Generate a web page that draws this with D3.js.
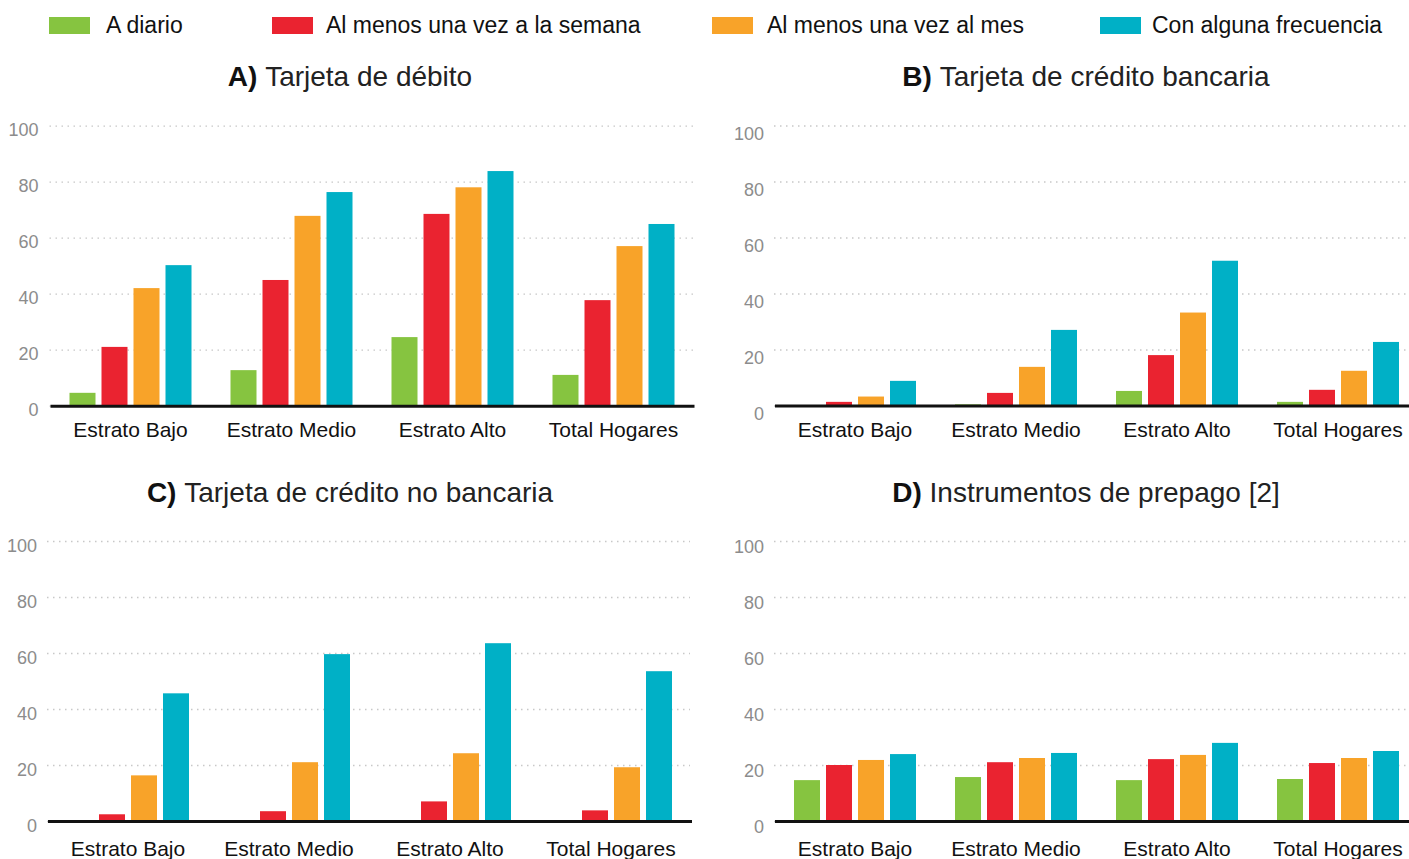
<!DOCTYPE html>
<html>
<head>
<meta charset="utf-8">
<script src="https://cdn.jsdelivr.net/npm/d3@7"></script>
<style>
    body { margin: 0; background: #fff; }
    svg { display: block; font-family: 'Liberation Sans', Arial, sans-serif; }
</style>
</head>
<body>
<svg id="chart" width="1409" height="859"></svg>
<script>
// Frecuencia de uso de instrumentos de pago, por estrato

const categories = ['Estrato Bajo', 'Estrato Medio', 'Estrato Alto', 'Total Hogares'];
const seriesNames = ['A diario', 'Al menos una vez a la semana', 'Al menos una vez al mes', 'Con alguna frecuencia'];
const seriesColors = ['#86c440', '#ea2330', '#f8a329', '#00b0c6'];
const yTicks = [0, 20, 40, 60, 80, 100];

// values per category, in series order
const debito = [
    [4.6, 21.0, 42.0, 50.2],
    [12.7, 44.9, 67.8, 76.3],
    [24.5, 68.5, 78.0, 83.8],
    [11.0, 37.7, 57.0, 64.9]
];
const creditoBancaria = [
    [0.0, 1.3, 3.2, 8.8],
    [0.4, 4.5, 13.8, 27.0],
    [5.2, 18.0, 33.2, 51.7],
    [1.3, 5.6, 12.4, 22.7]
];
const creditoNoBancaria = [
    [0.3, 2.4, 16.3, 45.6],
    [0.2, 3.5, 21.0, 59.6],
    [0.3, 7.0, 24.2, 63.5],
    [0.2, 3.8, 19.2, 53.5]
];
const prepago = [
    [14.6, 20.0, 21.8, 23.9],
    [15.7, 21.0, 22.5, 24.3],
    [14.6, 22.1, 23.6, 27.9],
    [15.0, 20.7, 22.5, 25.0]
];

// panel layout
const panels = [
    { letter: 'A)', title: 'Tarjeta de débito', data: debito,
      left: 50, top: 125.7, bottom: 405.7, gridEnd: 693, titleX: 350, titleY: 86, tickPad: 11, tickDy: 3.3, labelY: 31 },
    { letter: 'B)', title: 'Tarjeta de crédito bancaria', data: creditoBancaria,
      left: 774.5, top: 125.5, bottom: 405.5, gridEnd: 1409, titleX: 1086, titleY: 86, tickPad: 10, tickDy: 7.6, labelY: 31 },
    { letter: 'C)', title: 'Tarjeta de crédito no bancaria', data: creditoNoBancaria,
      left: 47.5, top: 541, bottom: 821, gridEnd: 690, titleX: 350, titleY: 502, tickPad: 10, tickDy: 4, labelY: 35 },
    { letter: 'D)', title: 'Instrumentos de prepago [2]', data: prepago,
      left: 774.5, top: 541, bottom: 821, gridEnd: 1409, titleX: 1086, titleY: 502, tickPad: 10, tickDy: 5, labelY: 35 }
];

const svg = d3.select('#chart');
const plotWidth = 644;

// Legend across the top
const legendX = [49, 272, 712, 1100];
const legendTextX = [106, 326, 767, 1152];
const legend = svg.append('g');
seriesNames.forEach((name, i) => {
    legend.append('rect')
        .attr('x', legendX[i])
        .attr('y', 17)
        .attr('width', 41)
        .attr('height', 17)
        .attr('fill', seriesColors[i]);
    legend.append('text')
        .attr('x', legendTextX[i])
        .attr('y', 33)
        .attr('font-size', '23px')
        .attr('fill', '#111')
        .text(name);
});

function drawPanel(p) {
    const g = svg.append('g');

    const x0 = d3.scaleBand()
        .domain(categories)
        .range([p.left, p.left + plotWidth])
        .paddingInner(39 / 161)
        .paddingOuter(39 / 161 / 2);

    const x1 = d3.scaleBand()
        .domain(seriesNames)
        .range([0, x0.bandwidth()])
        .paddingInner(0.1875);

    const y = d3.scaleLinear()
        .domain([0, 100])
        .range([p.bottom, p.top]);

    // Title: bold letter, regular text
    const title = g.append('text')
        .attr('x', p.titleX)
        .attr('y', p.titleY)
        .attr('text-anchor', 'middle')
        .attr('font-size', '28px')
        .attr('fill', '#111');
    title.append('tspan').attr('font-weight', 'bold').text(p.letter + ' ');
    title.append('tspan').attr('fill', '#222').text(p.title);

    // y axis with dotted gridlines
    const gridStart = p.left - 0.5;
    g.append('g')
        .attr('transform', `translate(${gridStart},0)`)
        .call(d3.axisLeft(y)
            .tickValues(yTicks)
            .tickSize(-(p.gridEnd - gridStart))
            .tickPadding(p.tickPad))
        .call(ax => ax.select('.domain').remove())
        .call(ax => ax.selectAll('.tick line')
            .attr('stroke', '#c8c8c8')
            .attr('stroke-width', 1.3)
            .attr('stroke-dasharray', '1.5,4.5'))
        .call(ax => ax.selectAll('.tick text')
            .attr('dy', null)
            .attr('y', p.tickDy + 6.5)
            .attr('font-size', '18px')
            .attr('font-family', 'Liberation Sans, Arial, sans-serif')
            .attr('fill', '#8c8c8c'));

    // grouped bars
    const groups = g.append('g')
        .selectAll('g')
        .data(p.data)
        .join('g')
        .attr('transform', (d, i) => `translate(${x0(categories[i])},0)`);

    groups.selectAll('rect')
        .data(d => d.map((v, j) => ({ key: seriesNames[j], value: v, color: seriesColors[j] })))
        .join('rect')
        .attr('x', d => x1(d.key))
        .attr('y', d => y(d.value))
        .attr('width', x1.bandwidth())
        .attr('height', d => y(0) - y(d.value))
        .attr('fill', d => d.color);

    // x axis baseline and category labels
    g.append('g')
        .attr('transform', `translate(0,${y(0)})`)
        .call(d3.axisBottom(x0).tickSize(0).tickSizeOuter(0))
        .call(ax => ax.select('.domain')
            .attr('stroke', '#111')
            .attr('stroke-width', 3))
        .call(ax => ax.selectAll('.tick text')
            .attr('dy', null)
            .attr('y', p.labelY)
            .attr('font-size', '21px')
            .attr('font-family', 'Liberation Sans, Arial, sans-serif')
            .attr('fill', '#111'));
}

panels.forEach(drawPanel);
</script>
</body>
</html>
